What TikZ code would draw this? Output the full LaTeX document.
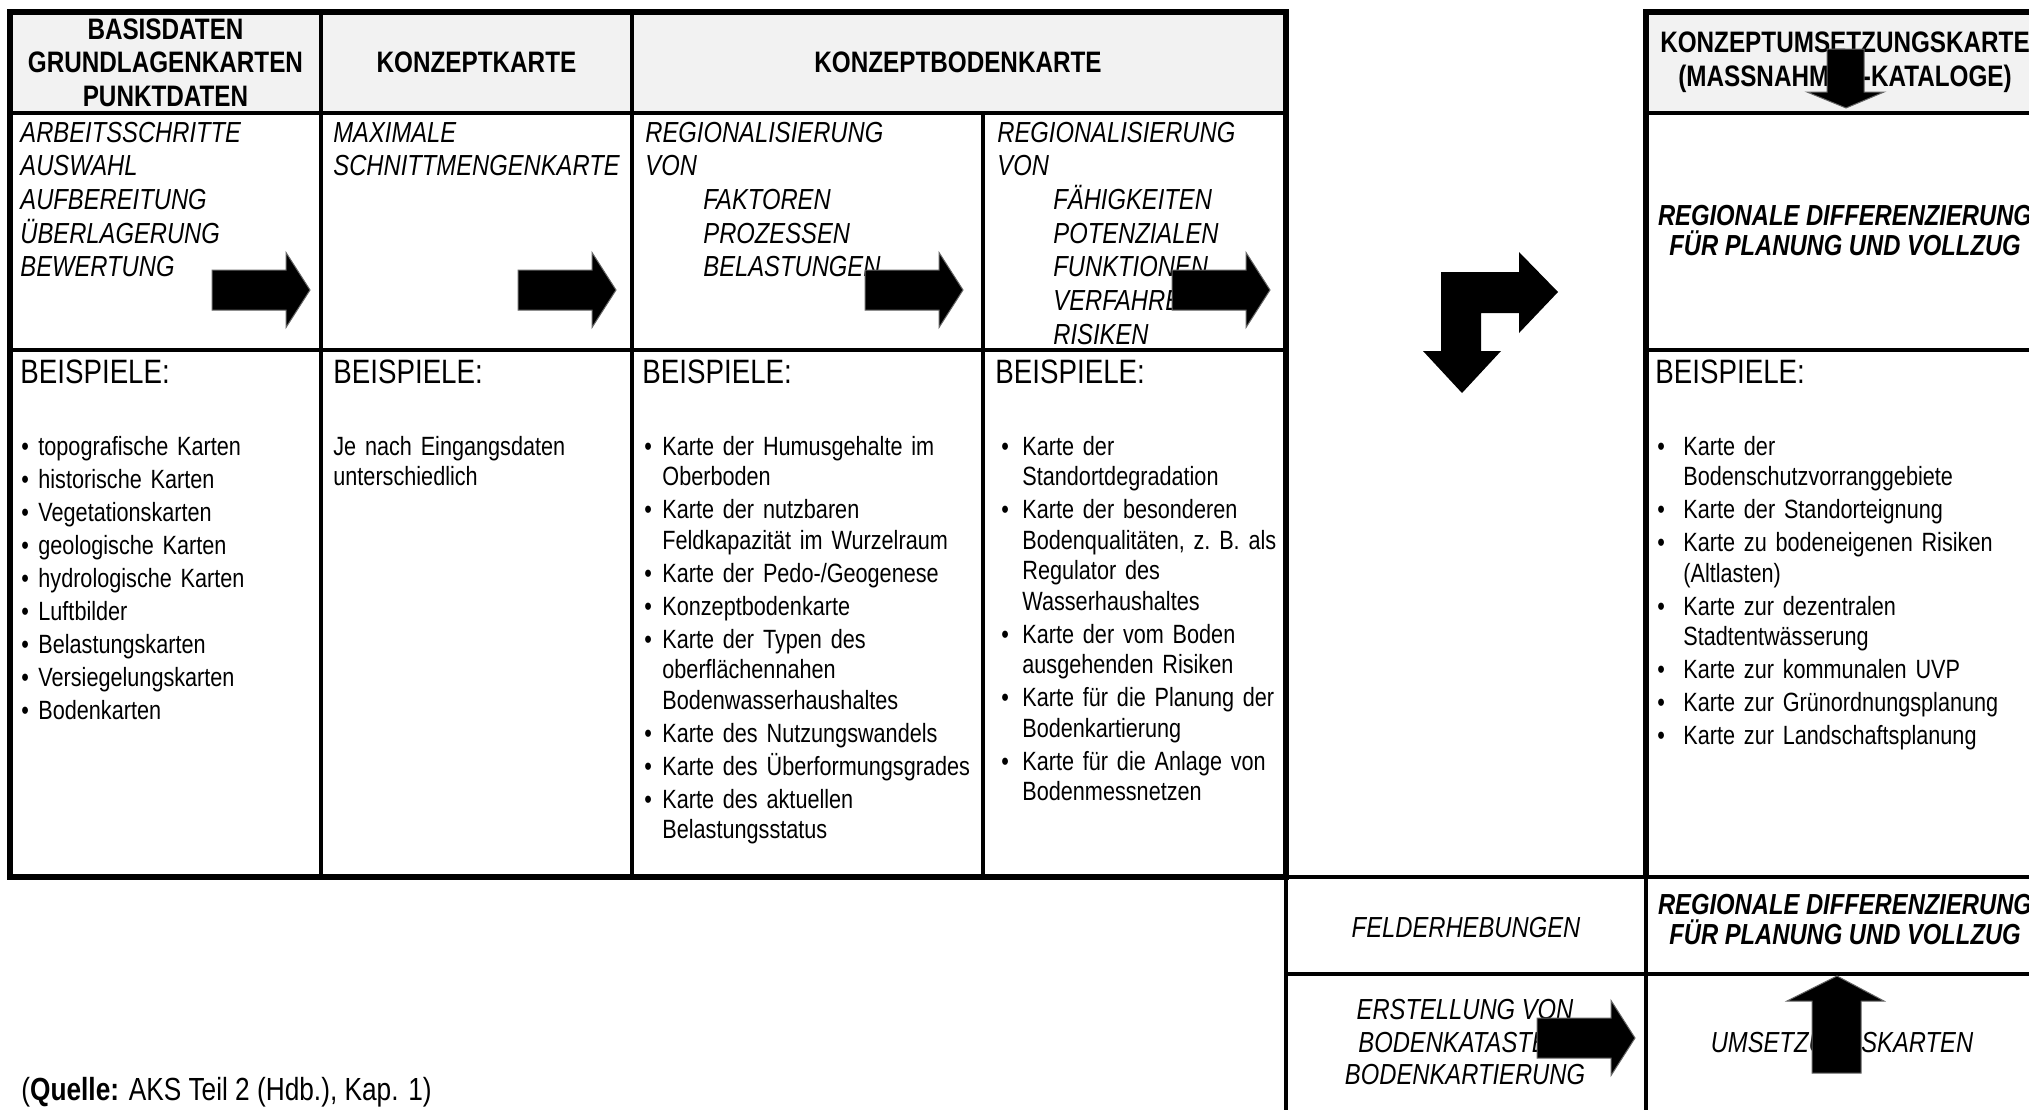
\documentclass[tikz,border=0pt]{standalone}
\usepackage{fontspec}
\setmainfont{Liberation Sans}[FakeStretch=0.82]
\definecolor{hdrGray}{RGB}{242,242,242}

\newlength{\bHang}
\newcommand{\bFirst}[1]{\hangindent=\bHang\hangafter=1\makebox[\bHang][l]{\textbullet}#1}
\newcommand{\bItem}[1]{\par\noindent\bFirst{#1}}
% block arrow to the right, body starts at (#1,#2)
\newcommand{\rArrow}[2]{%
  \filldraw[arrN] (#1,#2-20) -- ++(74,0) -- ++(0,-17.5) -- ++(24,37.5)
    -- ++(-24,37.5) -- ++(0,-17.5) -- ++(-74,0) -- cycle;}

\begin{document}
\begin{tikzpicture}
  [x=0.5pt,y=-0.5pt,
   thinLn/.style={line width=1.9pt},
   thickLn/.style={line width=2.8pt},
   hdrN/.style={font=\bfseries\fontsize{14.8pt}{16.75pt}\selectfont,align=center,inner sep=0pt},
   stpN/.style={font=\itshape\fontsize{14.5pt}{16.85pt}\selectfont,text width=330pt,align=left,anchor=base west,inner sep=0pt},
   regN/.style={font=\bfseries\itshape\fontsize{14.5pt}{15pt}\selectfont,align=center,inner sep=0pt},
   midN/.style={font=\itshape\fontsize{14.5pt}{16.25pt}\selectfont,align=center,inner sep=0pt},
   bspN/.style={font=\fontsize{16.9pt}{18pt}\selectfont,anchor=base west,inner sep=0pt},
   lstN/.style={font=\fontsize{13.2pt}{15.25pt}\selectfont\frenchspacing,text width=200pt,align=left,anchor=base west,inner sep=0pt},
   arrN/.style={fill=black,draw=black!60,line width=0.5pt},
  ]
 \useasboundingbox (0,0) rectangle (2029,1109);
 \fill[white] (0,0) rectangle (2029,1109);

 % header fills
 \fill[hdrGray] (10,12) rectangle (1286,113);
 \fill[hdrGray] (1646,12) rectangle (2045,113);

 % main table
 \draw[thinLn] (10,113) -- (1286,113) (10,350) -- (1286,350)
   (321,12) -- (321,877) (632,12) -- (632,877) (983,113) -- (983,877);
 \draw[thickLn] (10,12) rectangle (1286,877);

 % right table and lower fields
 \draw[thinLn] (1646,113) -- (2045,113) (1646,350) -- (2045,350)
   (1286,877) -- (2045,877) (1286,974) -- (2045,974)
   (1286,877) -- (1286,1120) (1646,877) -- (1646,1120);
 \draw[thickLn] (2045,12) -- (1646,12) -- (1646,877);

 % headers
 \node[hdrN] (hdrBas) at (165.5,62.5) {BASISDATEN\\GRUNDLAGENKARTEN\\PUNKTDATEN};
 \node[hdrN] (hdrKon) at (476.5,62.5) {KONZEPTKARTE};
 \node[hdrN] (hdrKbk) at (958,62.5) {KONZEPTBODENKARTE};
 \node[hdrN] (hdrUms) at (1845,62) {KONZEPTUMSETZUNGSKARTE\\(MASSNAHMEN-KATALOGE)};

 % working steps
 \node[stpN] (stpBas) at (20,142) {ARBEITSSCHRITTE\\AUSWAHL\\AUFBEREITUNG\\ÜBERLAGERUNG\\BEWERTUNG};
 \node[stpN] (stpKon) at (333,142) {MAXIMALE\\SCHNITTMENGENKARTE};
 \node[stpN] (stpFak) at (645,142) {REGIONALISIERUNG\\VON\\\hspace*{29pt}FAKTOREN\\\hspace*{29pt}PROZESSEN\\\hspace*{29pt}BELASTUNGEN};
 \node[stpN] (stpFae) at (997,142) {REGIONALISIERUNG\\VON\\\hspace*{28pt}FÄHIGKEITEN\\\hspace*{28pt}POTENZIALEN\\\hspace*{28pt}FUNKTIONEN\\\hspace*{28pt}VERFAHREN\\\hspace*{28pt}RISIKEN};
 \node[regN] (regOben) at (1845,231) {REGIONALE DIFFERENZIERUNG\\FÜR PLANUNG UND VOLLZUG};

 % examples
 \node[bspN] (bspBas) at (20,383) {BEISPIELE:};
 \node[bspN] (bspKon) at (333,383) {BEISPIELE:};
 \node[bspN] (bspFak) at (642,383) {BEISPIELE:};
 \node[bspN] (bspFae) at (995,383) {BEISPIELE:};
 \node[bspN] (bspUms) at (1655,383) {BEISPIELE:};

 \node[lstN] (lstBas) at (21,455) {\setlength{\bHang}{8.5pt}\setlength{\parskip}{1.25pt}%
   \bFirst{topografische Karten}\bItem{historische Karten}\bItem{Vegetationskarten}%
   \bItem{geologische Karten}\bItem{hydrologische Karten}\bItem{Luftbilder}%
   \bItem{Belastungskarten}\bItem{Versiegelungskarten}\bItem{Bodenkarten}\par};
 \node[lstN] (lstKon) at (333,455) {Je nach Eingangsdaten\newline unterschiedlich};
 \node[lstN] (lstFak) at (644,455) {\setlength{\bHang}{9pt}\setlength{\parskip}{1.25pt}%
   \bFirst{Karte der Humusgehalte im\newline Oberboden}%
   \bItem{Karte der nutzbaren\newline Feldkapazität im Wurzelraum}%
   \bItem{Karte der Pedo-/Geogenese}\bItem{Konzeptbodenkarte}%
   \bItem{Karte der Typen des\newline oberflächennahen\newline Bodenwasserhaushaltes}%
   \bItem{Karte des Nutzungswandels}\bItem{Karte des Überformungsgrades}%
   \bItem{Karte des aktuellen\newline Belastungsstatus}\par};
 \node[lstN] (lstFae) at (1001,455) {\setlength{\bHang}{10.5pt}\setlength{\parskip}{1.25pt}%
   \bFirst{Karte der\newline Standortdegradation}%
   \bItem{Karte der besonderen\newline Bodenqualitäten, z. B. als\newline Regulator des\newline Wasserhaushaltes}%
   \bItem{Karte der vom Boden\newline ausgehenden Risiken}%
   \bItem{Karte für die Planung der\newline Bodenkartierung}%
   \bItem{Karte für die Anlage von\newline Bodenmessnetzen}\par};
 \node[lstN] (lstUms) at (1657,455) {\setlength{\bHang}{13pt}\setlength{\parskip}{1.25pt}%
   \bFirst{Karte der\newline Bodenschutzvorranggebiete}\bItem{Karte der Standorteignung}%
   \bItem{Karte zu bodeneigenen Risiken\newline (Altlasten)}%
   \bItem{Karte zur dezentralen\newline Stadtentwässerung}%
   \bItem{Karte zur kommunalen UVP}\bItem{Karte zur Grünordnungsplanung}%
   \bItem{Karte zur Landschaftsplanung}\par};

 % lower fields
 \node[midN] (fldErh) at (1466,928) {FELDERHEBUNGEN};
 \node[regN] (regUnten) at (1845,920) {REGIONALE DIFFERENZIERUNG\\FÜR PLANUNG UND VOLLZUG};
 \node[midN] (ersBod) at (1465,1042) {ERSTELLUNG VON\\BODENKATASTER/\\BODENKARTIERUNG};
 \node[midN] (umsKar) at (1842,1043) {UMSETZUNGSKARTEN};
 \node[font=\fontsize{16pt}{19pt}\selectfont,anchor=base west,inner sep=0pt] (srcQue) at (21,1100)
   {(\textbf{Quelle:} AKS Teil 2 (Hdb.), Kap. 1)};

 % block arrows
 \rArrow{212}{290}
 \rArrow{518}{290}
 \rArrow{865}{290}
 \rArrow{1172}{290}
 \rArrow{1537}{1038}
 \fill (1441,272) -- (1519,272) -- (1519,252) -- (1558,292) -- (1519,333) -- (1519,313)
   -- (1481,313) -- (1481,351) -- (1501,351) -- (1462,393) -- (1423,351) -- (1441,351) -- cycle;
 \filldraw[arrN] (1827,49) -- (1864,49) -- (1864,92) -- (1884,92) -- (1846,108)
   -- (1807,92) -- (1827,92) -- cycle;
 \filldraw[arrN] (1812,1073) -- (1812,1001) -- (1787,1001) -- (1837,976) -- (1884,1001)
   -- (1861,1001) -- (1861,1073) -- cycle;
\end{tikzpicture}
\end{document}
